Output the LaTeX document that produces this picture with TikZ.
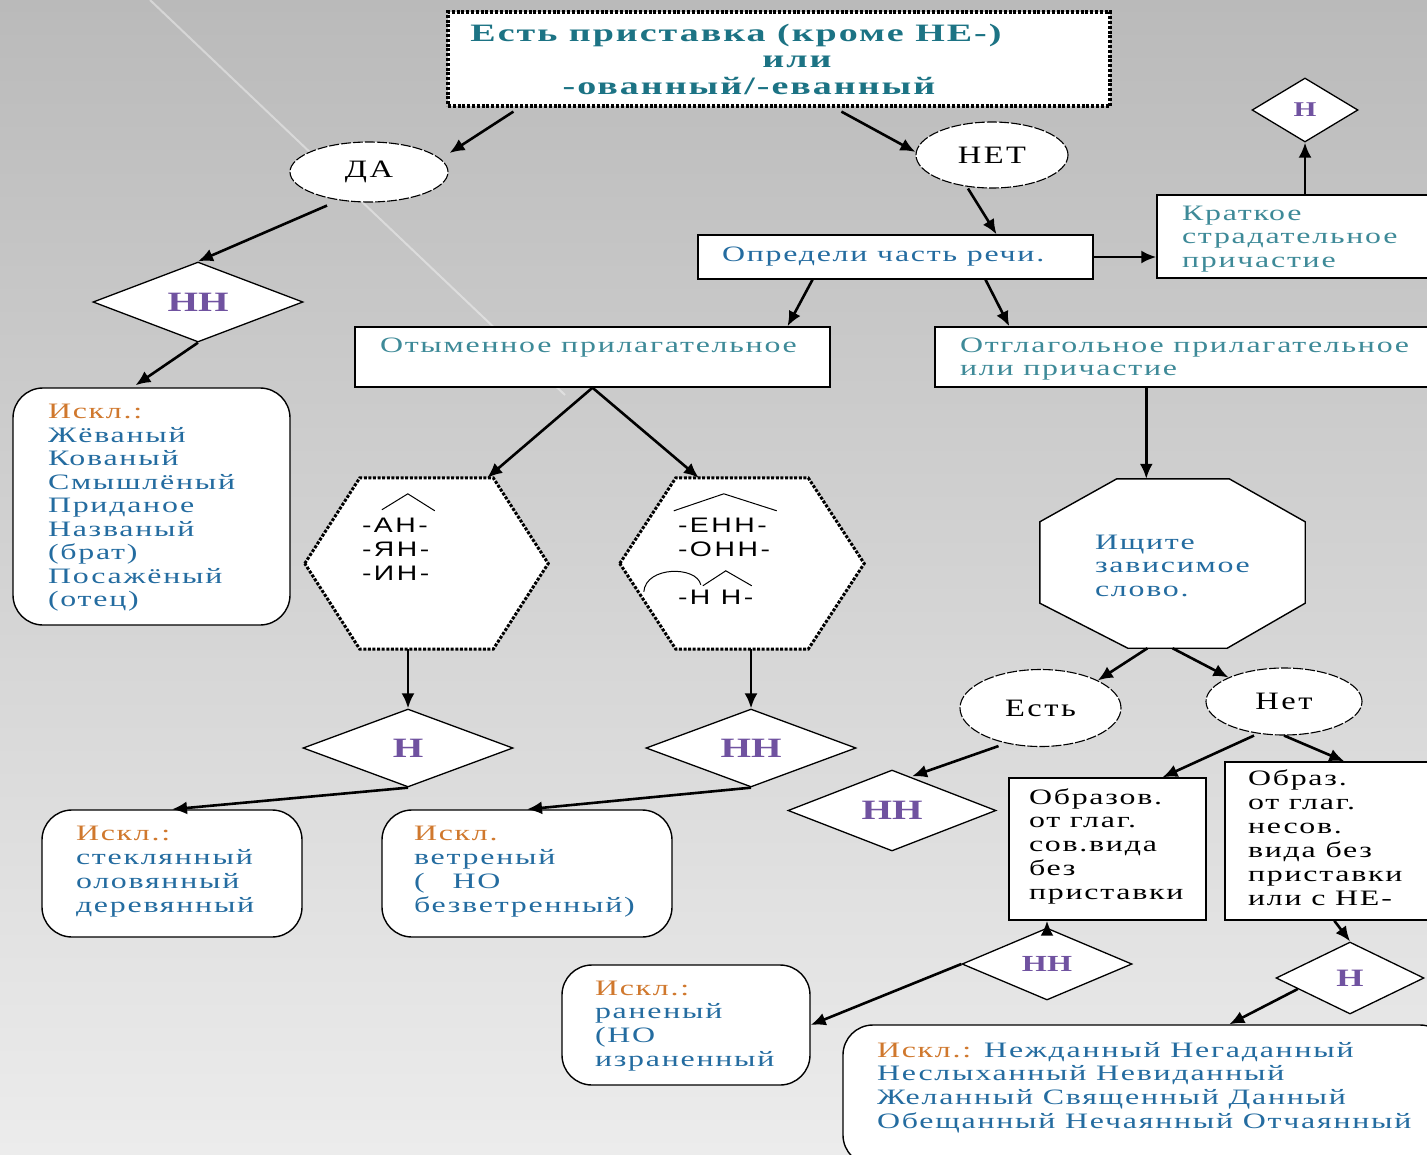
\documentclass[tikz,border=0pt]{standalone}
\usepackage{fontspec}
\setmainfont{Liberation Serif}
\newfontfamily\bodyf[FakeStretch=1.45,LetterSpace=8]{Liberation Serif}
\newfontfamily\titlef[FakeStretch=1.52,LetterSpace=8]{Liberation Serif}
\newfontfamily\hhf[FakeStretch=1.4]{Liberation Serif}
\newfontfamily\ellf[FakeStretch=1.3,LetterSpace=10]{Liberation Serif}
\newfontfamily\sufff[FakeStretch=1.35,LetterSpace=12]{Liberation Sans}
\usetikzlibrary{shapes.geometric,arrows.meta,calc}
\pgfdeclarelayer{back}
\pgfdeclarelayer{under}
\pgfsetlayers{back,under,main}
\definecolor{ttl}{RGB}{28,115,132}
\definecolor{blu}{RGB}{36,108,160}
\definecolor{tea}{RGB}{62,138,152}
\definecolor{org}{RGB}{208,120,45}
\definecolor{pur}{RGB}{112,82,160}
\definecolor{bgtop}{RGB}{186,186,186}
\definecolor{bgbot}{RGB}{236,236,236}
\newcommand{\inbox}[3]{\parbox[c][#2][t]{#1}{\strut #3}}
\tikzset{
  arr/.style={-{Latex[length=15pt,width=13pt]}, line width=2.6pt},
  sqbox/.style={draw, rectangle, line width=1.4pt, fill=white},
  rbox/.style={draw, rectangle, line width=1.4pt, fill=white, rounded corners=30pt},
  ovalnode/.style={draw, ellipse, fill=white, line width=1.1pt, dash pattern=on 10pt off 2pt, inner sep=0pt, font={\ellf\fontsize{25}{27}\selectfont}},
  dia/.style={draw, diamond, aspect=2.6, fill=white, line width=1.3pt, inner sep=0pt, text=pur},
  hhbig/.style={font={\hhf\bfseries\fontsize{28}{30}\selectfont}},
  bodytxt/.style={font={\bodyf\fontsize{22}{23.7}\selectfont}},
  polyout/.style={draw, fill=white, line width=3pt, dash pattern=on 3pt off 1.6pt},
  morph/.style={line width=1pt},
}
\begin{document}
\begin{tikzpicture}[x=1pt,y=-1pt]
\useasboundingbox (0,0) rectangle (1427,1154);
\begin{pgfonlayer}{back}
\shade[top color=bgtop, bottom color=bgbot] (0,0) rectangle (1427,1154);
\draw[white, opacity=0.4, line width=2pt] (150,0) -- (565,395);
\end{pgfonlayer}

% title
\node[draw, line width=3.2pt, dash pattern=on 3pt off 1.8pt, fill=white,
      minimum width=662, minimum height=94, inner sep=0pt, align=center, text=ttl,
      font={\titlef\bfseries\fontsize{25}{26.5}\selectfont}] (top) at (779,59)
  {Есть приставка (кроме НЕ-)\hspace*{86pt}\\\hspace*{36pt}или\\-ованный/-еванный\hspace*{60pt}};

\node[ovalnode, minimum width=158, minimum height=60] (DA) at (369,172) {ДА};
\node[ovalnode, minimum width=152, minimum height=66] (NET) at (992,155) {НЕТ};

\node[dia, hhbig, minimum width=210, minimum height=80] (HH1) at (198,302) {НН};

\node[rbox, font={\bodyf\fontsize{22}{23.5}\selectfont}, text=blu, inner xsep=35, inner ysep=14.5] (ex1) at (151.5,506.5)
  {\inbox{207pt}{208pt}{\textcolor{org}{Искл.:}\\Жёваный\\Кованый\\Смышлёный\\Приданое\\Названый\\(брат)\\Посажёный\\(отец)}};

\node[sqbox, bodytxt, text=blu, inner xsep=24, inner ysep=9.5] (opr) at (895.5,257)
  {\inbox{347pt}{25pt}{Определи часть речи.}};

\node[sqbox, bodytxt, text=tea, inner xsep=25, inner ysep=8.5] (krat) at (1298.5,236.5)
  {\inbox{233pt}{66pt}{Краткое\\страдательное\\причастие}};

\node[dia, font={\hhf\bfseries\fontsize{21}{23}\selectfont}, minimum width=106, minimum height=64] (Hr) at (1305,110) {Н};

\node[sqbox, bodytxt, text=tea, inner xsep=25, inner ysep=8.5] (otym) at (592.5,357)
  {\inbox{425pt}{43pt}{Отыменное прилагательное}};
\node[sqbox, bodytxt, text=tea, inner xsep=25, inner ysep=8.5] (otgl) at (1195,357)
  {\inbox{470pt}{43pt}{Отглагольное прилагательное\\или причастие}};

\node[inner xsep=57, inner ysep=37.2, font={\sufff\fontsize{21}{24}\selectfont}] (hex1) at (426.5,563.5)
  {\inbox{129pt}{96.6pt}{-АН-\\-ЯН-\\-ИН-}};
\node[inner xsep=58, inner ysep=37.2, font={\sufff\fontsize{21}{24}\selectfont}] (hex2) at (742,563.5)
  {\inbox{128pt}{96.6pt}{-ЕНН-\\-ОНН-\\[24pt]-Н Н-}};

\node[inner xsep=55, inner ysep=53.5, bodytxt, text=blu] (oct) at (1172.5,563.5)
  {\inbox{155pt}{62pt}{Ищите\\зависимое\\слово.}};

\node[dia, hhbig, minimum width=210, minimum height=78] (Hn1) at (408,748) {Н};
\node[dia, hhbig, minimum width=210, minimum height=78] (HHm) at (751,748) {НН};

\node[rbox, font={\bodyf\fontsize{22}{24}\selectfont}, text=blu, inner xsep=34, inner ysep=13.2] (ex2) at (172,873.5)
  {\inbox{192pt}{100.6pt}{\textcolor{org}{Искл.:}\\стеклянный\\оловянный\\деревянный}};
\node[rbox, font={\bodyf\fontsize{22}{24}\selectfont}, text=blu, inner xsep=32, inner ysep=13.2] (ex3) at (527,873.5)
  {\inbox{226pt}{100.6pt}{\textcolor{org}{Искл.}\\ветреный\\(\hspace{28pt}НО\\безветренный)}};

\node[ovalnode, minimum width=161, minimum height=77] (Est) at (1040.5,708) {Есть};
\node[ovalnode, minimum width=156, minimum height=67] (Net2) at (1284,701.5) {Нет};

\node[dia, hhbig, minimum width=208, minimum height=81] (HHl) at (892,810.5) {НН};

\node[sqbox, font={\bodyf\fontsize{22}{23.75}\selectfont}, inner xsep=20, inner ysep=9.4] (obrzv) at (1107.5,849)
  {\inbox{157pt}{123.2pt}{Образов.\\от глаг.\\сов.вида\\без\\приставки}};
\node[sqbox, font={\bodyf\fontsize{22}{24}\selectfont}, inner xsep=23, inner ysep=6.2] (obrz) at (1335,841)
  {\inbox{174pt}{145.6pt}{Образ.\\от глаг.\\несов.\\вида без\\приставки\\или с НЕ-}};

\node[dia, font={\hhf\bfseries\fontsize{23}{25}\selectfont}, minimum width=170, minimum height=72] (HHb) at (1047,964) {НН};
\node[dia, font={\hhf\bfseries\fontsize{25}{27}\selectfont}, minimum width=148, minimum height=72] (Hb) at (1350,978) {Н};

\node[rbox, bodytxt, text=blu, inner xsep=33, inner ysep=13.4] (ex4) at (686,1025)
  {\inbox{182pt}{93.2pt}{\textcolor{org}{Искл.:}\\раненый\\(НО\\израненный}};
\node[rbox, bodytxt, text=blu, inner xsep=34, inner ysep=15.4] (ex5) at (1146.5,1095)
  {\inbox{539pt}{109.2pt}{\textcolor{org}{Искл.:} Нежданный Негаданный\\Неслыханный Невиданный\\Желанный Священный Данный\\Обещанный Нечаянный Отчаянный}};

% outlines of polygons
\begin{pgfonlayer}{under}
\path[polyout] (hex1.west) -- ($(hex1.north west)+(55,0)$) -- ($(hex1.north east)+(-55,0)$) -- (hex1.east)
  -- ($(hex1.south east)+(-55,0)$) -- ($(hex1.south west)+(55,0)$) -- cycle;
\path[polyout] (hex2.west) -- ($(hex2.north west)+(56,0)$) -- ($(hex2.north east)+(-56,0)$) -- (hex2.east)
  -- ($(hex2.south east)+(-56,0)$) -- ($(hex2.south west)+(56,0)$) -- cycle;
\path[draw, fill=white, line width=1.4pt] ($(oct.north west)+(77,0)$) -- ($(oct.north east)+(-76,0)$)
  -- ($(oct.north east)+(0,43)$) -- ($(oct.south east)+(0,-45)$) -- ($(oct.south east)+(-78,0)$)
  -- ($(oct.south west)+(88,0)$) -- ($(oct.south west)+(0,-45)$) -- ($(oct.north west)+(0,43)$) -- cycle;
\end{pgfonlayer}

% morpheme marks
\draw[morph] ($(hex1.north west)+(77,32)$) -- ($(hex1.north west)+(103,16)$) -- ($(hex1.north west)+(130,33)$);
\draw[morph] ($(hex2.north west)+(54,33)$) -- ($(hex2.north west)+(104,16)$) -- ($(hex2.north west)+(157,33)$);
\draw[morph] ($(hex2.north west)+(24,114)$) .. controls ($(hex2.north west)+(26,88)$) and ($(hex2.north west)+(77,88)$) .. ($(hex2.north west)+(81,107)$);
\draw[morph] ($(hex2.north west)+(83,108)$) -- ($(hex2.north west)+(106,93)$) -- ($(hex2.north west)+(132,108)$);

% connectors
\coordinate (c1) at ($(otgl.south west)+(212,0)$);
\draw[arr] ($(top.south west)+(67,4)$) -- ($(DA.east)+(1,-19)$);
\draw[arr] ($(top.south west)+(395,4)$) -- ($(NET.west)+(0,-3)$);
\draw[arr] ($(DA.south)+(-42,3)$) -- (HH1.north);
\draw[arr] (HH1.south) -- ($(ex1.north)+(-16,-2)$);
\draw[arr] ($(NET.south)+(-24,0)$) -- ($(opr.north)+(101,0)$);
\draw[arr] (opr.east) -- (krat.west |- opr.east);
\draw[arr] (Hr.south |- krat.north) -- (Hr.south);
\draw[arr] ($(opr.south)+(-83,0)$) -- ($(otym.north)+(195,0)$);
\draw[arr] ($(opr.south)+(90,0)$) -- ($(otgl.north west)+(75,0)$);
\draw[arr] (otym.south) -- ($(hex1.north east)+(-61,0)$);
\draw[arr] (otym.south) -- ($(hex2.north west)+(79,0)$);
\draw[arr] (c1) -- (c1 |- oct.north);
\draw[arr] (Hn1.north |- hex1.south) -- (Hn1.north);
\draw[arr] (HHm.north |- hex2.south) -- (HHm.north);
\draw[arr] (Hn1.south) -- (ex2.north);
\draw[arr] (HHm.south) -- (ex3.north);
\draw[arr] ($(oct.south)+(-25,0)$) -- (Est.north east);
\draw[arr] (oct.south) -- (Net2.north west);
\draw[arr] ($(Est.south)+(-42,-1)$) -- ($(HHl.north)+(20,7)$);
\draw[arr] ($(Net2.south)+(-30,0)$) -- ($(obrzv.north)+(55,0)$);
\draw[arr] (Net2.south) -- ($(obrz.north west)+(120,0)$);
\draw[arr] (HHb.north) -- (HHb.north |- obrzv.south);
\draw[arr] (HHb.west) -- (ex4.east);
\draw[arr] ($(obrz.south west)+(110,0)$) -- (Hb.north);
\draw[arr] ($(Hb.west)!0.3!(Hb.south)$) -- ($(ex5.north west)+(387,0)$);
\end{tikzpicture}
\end{document}
